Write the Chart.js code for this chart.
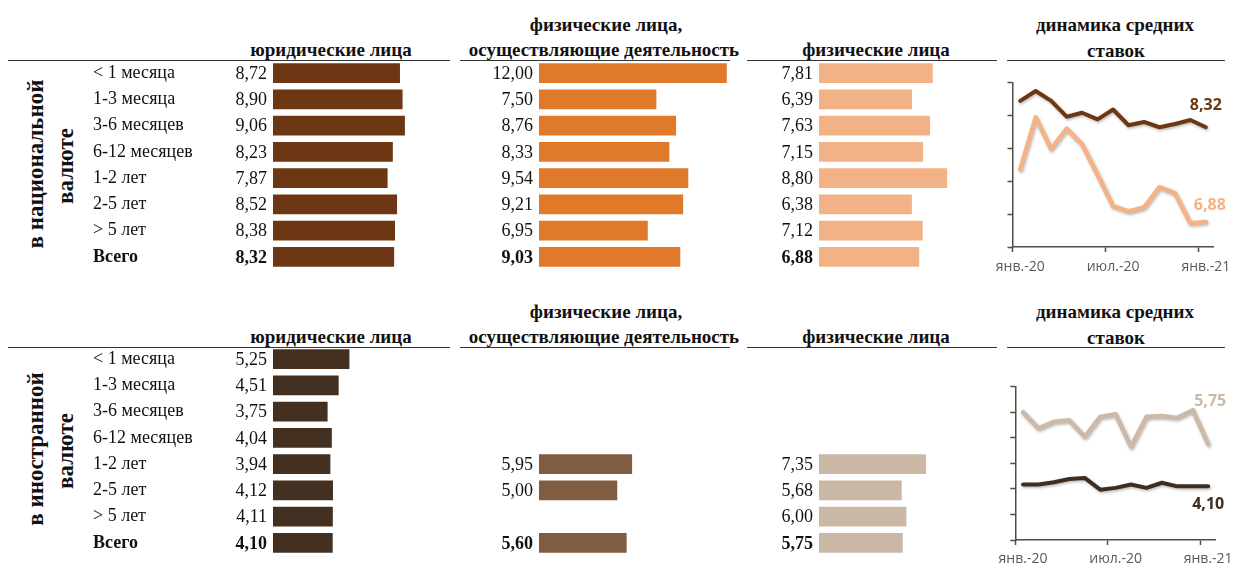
<!DOCTYPE html>
<html><head><meta charset="utf-8">
<script src="https://cdn.jsdelivr.net/npm/chart.js@4.4.1/dist/chart.umd.min.js"></script>
<style>
html,body{margin:0;padding:0;background:#fff;overflow:hidden;}
#root{position:relative;width:1233px;height:567px;overflow:hidden;font-family:"Liberation Serif",serif;color:#111;}
canvas{position:absolute;}
.h{position:absolute;transform:translate(-50%,-50%);font-weight:bold;font-size:19px;white-space:nowrap;line-height:1;}
.rule{position:absolute;height:0;border-top:1.6px solid #333;}
.rot{position:absolute;transform:translate(-50%,-50%) rotate(-90deg);font-weight:bold;font-size:23px;white-space:nowrap;line-height:1;}
</style></head>
<body><div id="root"></div>
<script>
// ---------- data ----------
const categories = ['< 1 месяца','1-3 месяца','3-6 месяцев','6-12 месяцев','1-2 лет','2-5 лет','> 5 лет','Всего'];
const natLegal         = [8.72, 8.90, 9.06, 8.23, 7.87, 8.52, 8.38, 8.32];
const natEntrepreneurs = [12.00, 7.50, 8.76, 8.33, 9.54, 9.21, 6.95, 9.03];
const natIndividuals   = [7.81, 6.39, 7.63, 7.15, 8.80, 6.38, 7.12, 6.88];
const forLegal         = [5.25, 4.51, 3.75, 4.04, 3.94, 4.12, 4.11, 4.10];
const forEntrepreneurs = [null, null, null, null, 5.95, 5.00, null, 5.60];
const forIndividuals   = [null, null, null, null, 7.35, 5.68, 6.00, 5.75];
const months = ['янв.-20','фев.-20','мар.-20','апр.-20','май.-20','июн.-20','июл.-20','авг.-20','сен.-20','окт.-20','ноя.-20','дек.-20','янв.-21'];
const natLegalTrend = [8.72, 8.87, 8.72, 8.48, 8.54, 8.44, 8.59, 8.35, 8.40, 8.32, 8.37, 8.43, 8.32];
const natIndivTrend = [7.68, 8.47, 7.99, 8.30, 8.06, 7.60, 7.12, 7.04, 7.10, 7.41, 7.32, 6.86, 6.88];
const forLegalTrend = [4.17, 4.17, 4.26, 4.39, 4.43, 3.97, 4.04, 4.17, 4.04, 4.24, 4.10, 4.10, 4.10];
const forIndivTrend = [7.00, 6.37, 6.63, 6.69, 6.04, 6.82, 6.92, 5.65, 6.82, 6.85, 6.78, 7.08, 5.75];
const colHeads = ['юридические лица', 'физические лица,', 'осуществляющие деятельность', 'физические лица', 'динамика средних', 'ставок'];
const sectionTitles = [['в национальной','валюте'], ['в иностранной','валюте']];

// ---------- helpers ----------
const root = document.getElementById('root');
const fmt = v => v.toFixed(2).replace('.', ',');
const SERIF = '"Liberation Serif", "Times New Roman", serif';
const SANS = '"Open Sans", "Noto Sans", sans-serif';

function addDiv(cls, text, x, y) {
  const d = document.createElement('div'); d.className = cls; d.textContent = text;
  d.style.left = x + 'px'; d.style.top = y + 'px'; root.appendChild(d); return d;
}
function addRule(x1, x2, y) {
  const d = document.createElement('div'); d.className = 'rule';
  d.style.left = x1 + 'px'; d.style.width = (x2 - x1) + 'px'; d.style.top = y + 'px'; root.appendChild(d);
}
function addCanvas(left, top, w, h) {
  const c = document.createElement('canvas'); c.width = w; c.height = h;
  c.style.left = left + 'px'; c.style.top = top + 'px'; c.style.width = w + 'px'; c.style.height = h + 'px';
  root.appendChild(c); return c;
}

const valueLabels = {
  id: 'valueLabels',
  afterDatasetsDraw(chart) {
    const c = chart.ctx, data = chart.data.datasets[0].data, ys = chart.scales.y;
    c.save(); c.textAlign = 'right'; c.textBaseline = 'middle'; c.fillStyle = '#111';
    data.forEach((v, i) => {
      if (v == null) return;
      c.font = (i === data.length - 1 ? 'bold ' : '') + '18px ' + SERIF;
      c.fillText(fmt(v), chart.chartArea.left - 6, ys.getPixelForValue(i) + 1);
    });
    c.restore();
  }
};

function makeBar(cv, values, color, cfg) {
  return new Chart(cv, {
    type: 'bar',
    data: { labels: categories, datasets: [{ data: values, backgroundColor: color, barPercentage: 0.76, categoryPercentage: 1 }] },
    options: {
      indexAxis: 'y', responsive: false, animation: false, devicePixelRatio: 1,
      layout: { padding: { left: cfg.showCats ? 0 : cfg.padLeft, right: cfg.padRight, top: 20, bottom: 20 } },
      plugins: { legend: { display: false }, tooltip: { enabled: false } },
      scales: {
        x: { display: false, min: 0, max: cfg.max },
        y: {
          display: !!cfg.showCats, grid: { display: false }, border: { display: false },
          ticks: { crossAlign: 'far', padding: 0, color: '#111',
            font: c => ({ family: SERIF, size: 18, weight: c.index === categories.length - 1 ? 'bold' : 'normal' }) },
          afterFit: s => { s.width = cfg.axisWidth || 0; }
        }
      }
    },
    plugins: [valueLabels]
  });
}

const lineShadow = {
  id: 'lineShadow',
  beforeDatasetDraw(chart) { const c = chart.ctx; c.save(); c.shadowColor = 'rgba(0,0,0,0.28)'; c.shadowBlur = 3; c.shadowOffsetX = 1; c.shadowOffsetY = 1.5; },
  afterDatasetDraw(chart) { chart.ctx.restore(); }
};
const endLabels = {
  id: 'endLabels',
  afterDatasetsDraw(chart, args, opts) {
    const c = chart.ctx;
    (opts.items || []).forEach(it => {
      const ds = chart.data.datasets[it.ds], meta = chart.getDatasetMeta(it.ds);
      const pt = meta.data[meta.data.length - 1];
      c.save(); c.font = 'bold 16px ' + SANS; c.fillStyle = it.color; c.textAlign = 'center'; c.textBaseline = 'middle';
      c.fillText(fmt(ds.data[ds.data.length - 1]), pt.x + it.dx, pt.y + it.dy); c.restore();
    });
  }
};

const AXIS = '#4b5043';
function makeLine(cv, sets, yr, g, labels) {
  return new Chart(cv, {
    type: 'line',
    data: { labels: months, datasets: sets.map(s => ({ data: s.data, borderColor: s.color, borderWidth: s.w, pointRadius: 0, tension: 0, borderJoinStyle: 'round', borderCapStyle: 'round', fill: false })) },
    options: {
      responsive: false, animation: false, devicePixelRatio: 1,
      layout: { padding: { left: 0, right: g.padRight, top: g.padTop, bottom: 0 } },
      plugins: { legend: { display: false }, tooltip: { enabled: false }, endLabels: { items: labels } },
      scales: {
        x: {
          offset: true,
          grid: { display: true, offset: true, drawOnChartArea: false, drawTicks: true, tickLength: 5, tickWidth: 1.5,
            tickColor: c => (c.index !== undefined && c.index % 6 === 0) ? AXIS : 'rgba(0,0,0,0)' },
          border: { display: true, color: AXIS, width: 1.5 },
          ticks: { autoSkip: false, maxRotation: 0, padding: g.tickPad, color: '#595959', font: { family: SANS, size: 14 },
            callback: (v, i) => (i % 6 === 0 ? months[i] : '') },
          afterFit: s => { s.height = g.xH; }
        },
        y: {
          min: yr[0], max: yr[1],
          grid: { display: true, drawOnChartArea: false, drawTicks: true, tickLength: 5, tickWidth: 1.5, tickColor: AXIS },
          border: { display: true, color: AXIS, width: 1.5 },
          ticks: { display: false, stepSize: yr[2] },
          afterFit: s => { s.width = g.yW; }
        }
      }
    },
    plugins: [lineShadow, endLabels]
  });
}

// ---------- layout ----------
const sections = [
  { dy: 0, areaTop: 59.9, areaH: 210.4,
    bars: [natLegal, natEntrepreneurs, natIndividuals], colors: ['#6C3712', '#E07A2A', '#F2B286'] },
  { dy: 286.5, areaTop: 346.4, areaH: 209.6,
    bars: [forLegal, forEntrepreneurs, forIndividuals], colors: ['#433021', '#805C42', '#CBB7A5'] }
];

sections.forEach((s, k) => {
  const dy = s.dy;
  addDiv('h', colHeads[0], 331, 49 + dy);
  addDiv('h', colHeads[1], 606, 24 + dy);
  addDiv('h', colHeads[2], 604, 49 + dy);
  addDiv('h', colHeads[3], 876, 49 + dy);
  addDiv('h', colHeads[4], 1115, 24 + dy);
  addDiv('h', colHeads[5], 1116, 50 + dy);
  addRule(8, 450, 60 + dy); addRule(460, 730, 60 + dy); addRule(747, 997, 60 + dy); addRule(1007, 1225, 60 + dy);
  const cy = k === 0 ? 164 : 449;
  addDiv('rot', sectionTitles[k][0], 35, cy);
  addDiv('rot', sectionTitles[k][1], 65, cy + 2);

  const top = s.areaTop - 20, h = Math.round(s.areaH + 40);
  makeBar(addCanvas(93, top, 336, h), s.bars[0], s.colors[0], { showCats: true, axisWidth: 180, padRight: 336 - 180 - 145.6, max: 10 });
  makeBar(addCanvas(470, top, 300, h), s.bars[1], s.colors[1], { padLeft: 69, padRight: 300 - 69 - 219.1, max: 14 });
  makeBar(addCanvas(750, top, 240, h), s.bars[2], s.colors[2], { padLeft: 69, padRight: 240 - 69 - 145.6, max: 10 });
});

// line charts
makeLine(addCanvas(970, 70, 275, 210),
  [{ data: natIndivTrend, color: '#F3B385', w: 4.5 }, { data: natLegalTrend, color: '#6C3712', w: 4 }],
  [6.5, 9.0, 0.5], { yW: 42.5, xH: 33, padTop: 12.5, padRight: 275 - 42.5 - 201.1, tickPad: 7 },
  [{ ds: 1, dx: 0, dy: -22, color: '#6C3712' }, { ds: 0, dx: 4, dy: -17, color: '#F3B385' }]);

makeLine(addCanvas(973, 370, 275, 197),
  [{ data: forIndivTrend, color: '#CDB9A8', w: 4.5 }, { data: forLegalTrend, color: '#3F2D20', w: 4 }],
  [2, 8, 1], { yW: 42.3, xH: 27, padTop: 16.7, padRight: 275 - 42.3 - 200.6, tickPad: 6 },
  [{ ds: 1, dx: 0, dy: 18, color: '#3F2D20' }, { ds: 0, dx: 2, dy: -43, color: '#CDB9A8' }]);
</script>
</body></html>
